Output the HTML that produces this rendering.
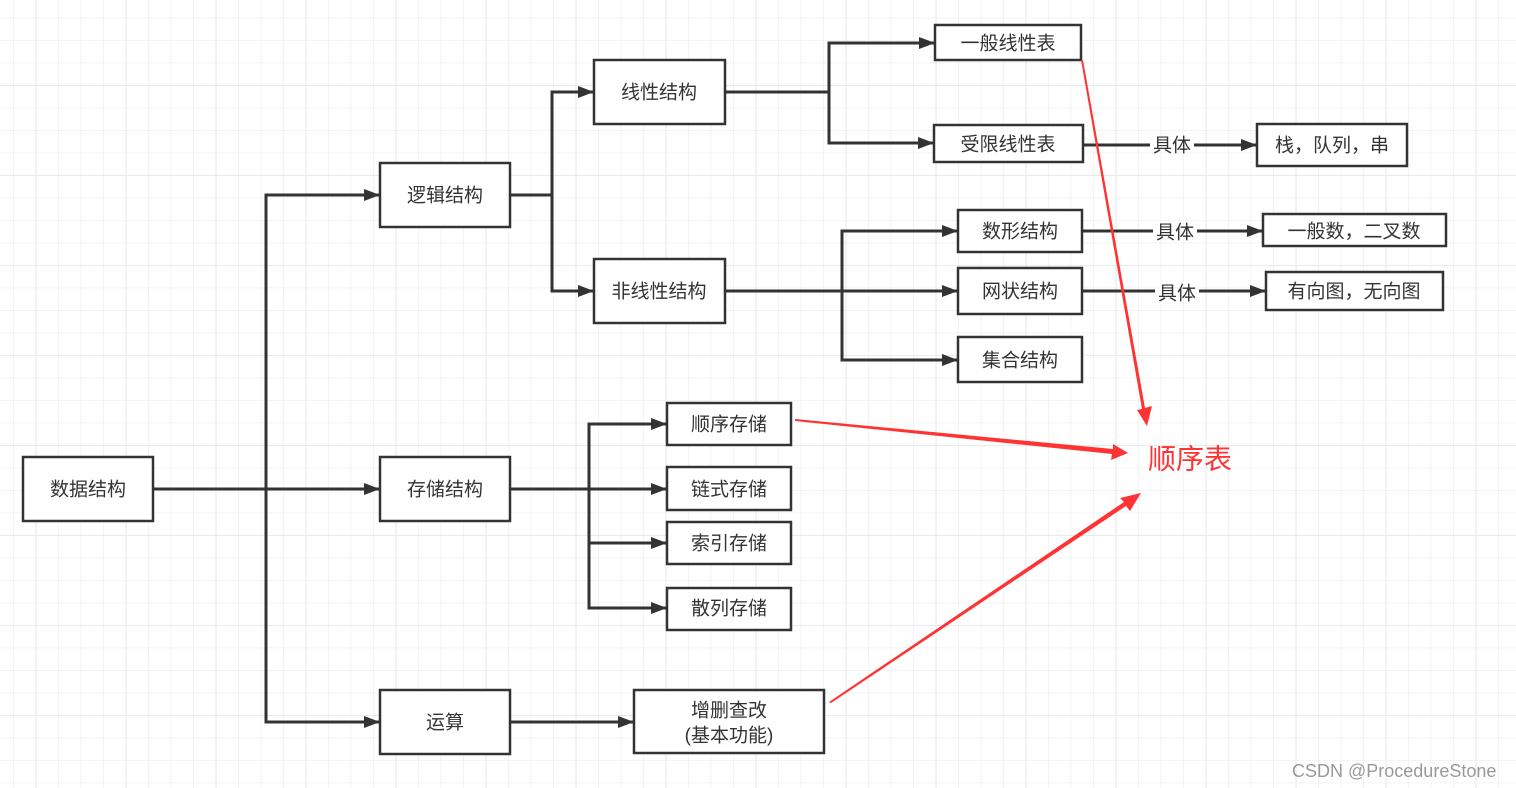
<!DOCTYPE html>
<html><head><meta charset="utf-8"><style>
html,body{margin:0;padding:0;background:#fff;}
svg{display:block;}
text{font-family:"Liberation Sans","Noto Sans CJK SC",sans-serif;}
</style></head><body>
<svg width="1516" height="788" xmlns="http://www.w3.org/2000/svg">
<defs>
<pattern id="g" x="13" y="17.5" width="22.5" height="22.5" patternUnits="userSpaceOnUse">
<path d="M0 0V22.5M0 0H22.5" stroke="#f0f0f0" stroke-width="1.5" fill="none"/>
</pattern>
<pattern id="G" x="35.7" y="-5" width="90" height="90" patternUnits="userSpaceOnUse">
<path d="M0 0V90M0 0H90" stroke="#e6e6e6" stroke-width="1.5" fill="none"/>
</pattern>
<marker id="A" viewBox="0 0 16 12" markerWidth="16" markerHeight="12" refX="15" refY="6" orient="auto" markerUnits="userSpaceOnUse">
<path d="M0 0L16 6L0 12Z" fill="#333"/></marker>
</defs>
<rect width="1516" height="788" fill="#fff"/>
<rect width="1516" height="788" fill="url(#g)"/>
<rect width="1516" height="788" fill="url(#G)"/>

<g stroke="#333" stroke-width="3" fill="none">
<path d="M153 489H379" marker-end="url(#A)"/>
<path d="M364 195H266V722H364"/>
<path d="M266 195H379" marker-end="url(#A)"/>
<path d="M266 722H379" marker-end="url(#A)"/>
<path d="M510 195H552V92H593" marker-end="url(#A)"/>
<path d="M552 195V291H593" marker-end="url(#A)"/>
<path d="M725 92H829V43H934" marker-end="url(#A)"/>
<path d="M829 92V143H933" marker-end="url(#A)"/>
<path d="M725 291H957" marker-end="url(#A)"/>
<path d="M842 291V231H957" marker-end="url(#A)"/>
<path d="M842 291V360H957" marker-end="url(#A)"/>
<path d="M510 489H666" marker-end="url(#A)"/>
<path d="M589 489V424H666" marker-end="url(#A)"/>
<path d="M589 489V608H666" marker-end="url(#A)"/>
<path d="M589 543H666" marker-end="url(#A)"/>
<path d="M510 722H633" marker-end="url(#A)"/>
<path d="M1083 145H1150M1194 145H1256" marker-end="url(#A)"/>
<path d="M1082 231H1153M1197 231H1262" marker-end="url(#A)"/>
<path d="M1082 291H1155M1199 291H1265" marker-end="url(#A)"/>
</g>

<g stroke="#333" stroke-width="2.5" fill="#fff">
<rect x="23" y="457" width="130" height="64"/>
<rect x="380" y="163" width="130" height="64"/>
<rect x="380" y="457" width="130" height="64"/>
<rect x="380" y="690" width="130" height="64"/>
<rect x="594" y="60" width="131" height="64"/>
<rect x="594" y="259" width="131" height="64"/>
<rect x="935" y="25" width="146" height="35"/>
<rect x="934" y="125" width="149" height="37"/>
<rect x="1257" y="124" width="150" height="42"/>
<rect x="958" y="210" width="124" height="42"/>
<rect x="958" y="268" width="124" height="46"/>
<rect x="958" y="337" width="124" height="45"/>
<rect x="1263" y="214" width="183" height="32"/>
<rect x="1266" y="272" width="177" height="38"/>
<rect x="667" y="403" width="124" height="42"/>
<rect x="667" y="467" width="124" height="43"/>
<rect x="667" y="522" width="124" height="42"/>
<rect x="667" y="588" width="124" height="42"/>
<rect x="634" y="690" width="190" height="63"/>
</g>

<g font-size="19" fill="#333" text-anchor="middle" dominant-baseline="central">
<text x="88" y="490">数据结构</text>
<text x="445" y="196">逻辑结构</text>
<text x="445" y="490">存储结构</text>
<text x="445" y="723">运算</text>
<text x="659" y="93">线性结构</text>
<text x="659" y="292">非线性结构</text>
<text x="1008" y="44">一般线性表</text>
<text x="1008" y="145">受限线性表</text>
<text x="1332" y="146">栈，队列，串</text>
<text x="1020" y="232">数形结构</text>
<text x="1020" y="292">网状结构</text>
<text x="1020" y="361">集合结构</text>
<text x="1354" y="232">一般数，二叉数</text>
<text x="1354" y="292">有向图，无向图</text>
<text x="729" y="425">顺序存储</text>
<text x="729" y="490">链式存储</text>
<text x="729" y="544">索引存储</text>
<text x="729" y="609">散列存储</text>
<text x="729" y="711">增删查改</text>
<text x="729" y="736">(基本功能)</text>
<text x="1172" y="146">具体</text>
<text x="1175" y="233">具体</text>
<text x="1177" y="294">具体</text>
</g>

<g fill="#f33">
<polygon points="1081,60 1083,60 1145,408 1152,406 1147,426 1137,410 1142,409"/>
<polygon points="795,419 795,421 1112,454 1111,460 1128,453 1113,444 1113,449"/>
<polygon points="829,702 831,703 1126,506 1130,511 1141,493 1120,498 1124,502"/>
</g>
<text x="1148" y="459" font-size="28" fill="#f33" dominant-baseline="central">顺序表</text>
<text x="1292" y="771" font-size="18" fill="#999" dominant-baseline="central">CSDN @ProcedureStone</text>
</svg>
</body></html>
